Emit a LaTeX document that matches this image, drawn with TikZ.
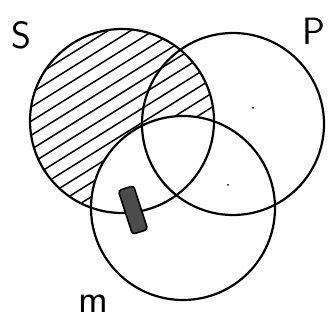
\documentclass[tikz,border=0pt]{standalone}
\usepackage{tikz}
\usetikzlibrary{calc, positioning}

\begin{document}
\begin{tikzpicture}[
  x=1pt, y=1pt,
  setline/.style={line width=2.2pt, black},
  hatchline/.style={line width=1.5pt, black, line cap=round},
  setlabel/.style={font=\sffamily\fontsize{38}{38}\selectfont, inner sep=0pt},
  blobbox/.style={draw=black, line width=1.6pt, fill=black!70,
    rounded corners=3pt, minimum width=16pt, minimum height=46pt}
]
\useasboundingbox (0,0) rectangle (335,329);

% set centres
\coordinate (S) at (122,208);
\coordinate (P) at (233,205);
\coordinate (M) at (183,121);

% hatching: S outside M
\begin{scope}[even odd rule]
  \clip (S) circle (92);
  \clip (M) circle (92) (-10,-10) rectangle (345,339);
  \begin{scope}[shift={(S)}, rotate=32]
    \foreach \d in {-96,-84,...,96}
      \draw[hatchline] (-110,\d) -- (110,\d);
  \end{scope}
\end{scope}

% circles
\draw[setline] (S) circle (92);
\draw[setline] (P) circle (91);
\draw[setline] (M) circle (92);

% centre dots
\fill (253,221) circle (1);
\fill (228,144) circle (1);

% dark mark in S and M
\node[blobbox, rotate=18] (blob) at (133,119) {};

% labels
\node[setlabel] (Slabel) at (21,294) {S};
\node[setlabel] (Plabel) at (314,298) {P};
\node[setlabel, font=\sffamily\fontsize{40}{40}\selectfont] (Mlabel) at (93,25) {m};

\end{tikzpicture}
\end{document}
